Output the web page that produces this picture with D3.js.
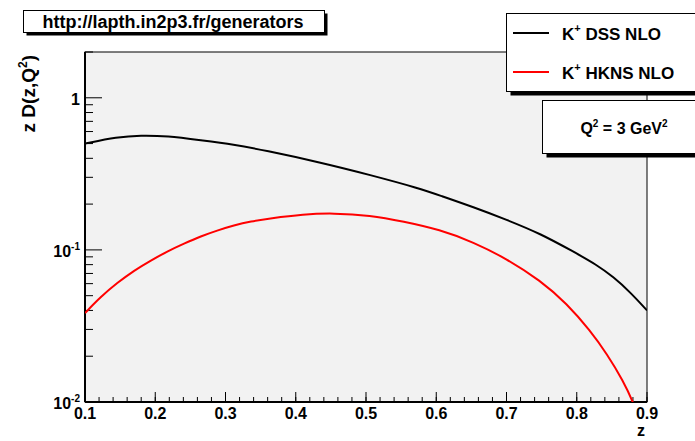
<!DOCTYPE html>
<html>
<head>
<meta charset="utf-8">
<script src="https://cdn.jsdelivr.net/npm/d3@7"></script>
<style>
  body { margin: 0; background: #fff; }
  text { font-family: "Liberation Sans", Arial, sans-serif; font-weight: bold; }
</style>
</head>
<body>
<div id="chart"></div>
<script>
// data (z, z*D(z,Q^2))
const dssZ   = [0.10, 0.146, 0.179, 0.217, 0.265, 0.312, 0.355, 0.435, 0.506, 0.577, 0.605, 0.653, 0.700, 0.748, 0.795, 0.828, 0.852, 0.876, 0.900];
const dssVal = [0.50, 0.552, 0.567, 0.561, 0.525, 0.492, 0.452, 0.376, 0.311, 0.253, 0.228, 0.191, 0.158, 0.128, 0.0975, 0.080, 0.0665, 0.0528, 0.040];

const hknsZ   = [0.10, 0.122, 0.146, 0.170, 0.194, 0.217, 0.241, 0.265, 0.288, 0.312, 0.336, 0.363, 0.411, 0.453, 0.506, 0.553, 0.605, 0.653, 0.700, 0.748, 0.786, 0.819, 0.843, 0.866, 0.881, 0.890];
const hknsVal = [0.0384, 0.049, 0.0608, 0.0733, 0.0853, 0.0977, 0.110, 0.123, 0.134, 0.145, 0.154, 0.161, 0.1715, 0.1746, 0.169, 0.154, 0.136, 0.1125, 0.0875, 0.063, 0.0443, 0.0295, 0.0207, 0.0138, 0.0098, 0.0075];

const xTicks = [0.1, 0.2, 0.3, 0.4, 0.5, 0.6, 0.7, 0.8, 0.9];
const yMajor = [1, 0.1, 0.01];
const yLabels = [["1", ""], ["10", "-1"], ["10", "-2"]];

const W = 695, H = 441;
const margin = { top: 52, right: 48, bottom: 39, left: 85 };

const svg = d3.select("#chart").append("svg")
    .attr("width", W)
    .attr("height", H);

const x = d3.scaleLinear().domain([0.1, 0.9]).range([margin.left, W - margin.right]);
const y = d3.scaleLog().domain([0.01, 2]).range([H - margin.bottom, margin.top]);

// plot frame
svg.append("rect")
    .attr("x", x(0.1)).attr("y", y(2))
    .attr("width", x(0.9) - x(0.1)).attr("height", y(0.01) - y(2))
    .attr("fill", "#f2f2f2").attr("stroke", "#000").attr("stroke-width", 1);

svg.append("clipPath").attr("id", "clip")
  .append("rect")
    .attr("x", x(0.1)).attr("y", y(2))
    .attr("width", x(0.9) - x(0.1)).attr("height", y(0.01) - y(2));

// x axis ticks
const xMinor = d3.range(0.1, 0.9001, 0.02);
svg.append("g").selectAll("line").data(xMinor).join("line")
    .attr("x1", d => x(d)).attr("x2", d => x(d))
    .attr("y1", y(0.01)).attr("y2", y(0.01) - 5)
    .attr("stroke", "#000");
svg.append("g").selectAll("line").data(xTicks).join("line")
    .attr("x1", d => x(d)).attr("x2", d => x(d))
    .attr("y1", y(0.01)).attr("y2", y(0.01) - 10)
    .attr("stroke", "#000");
svg.append("g").selectAll("text").data(xTicks).join("text")
    .attr("x", d => x(d)).attr("y", 419)
    .attr("text-anchor", "middle")
    .attr("font-size", 16)
    .text(d => d3.format(".1f")(d));

// y axis ticks
const yMinor = [];
[0.01, 0.1, 1].forEach(dec => {
  for (let k = 2; k <= 9; k++) if (dec * k <= 2) yMinor.push(dec * k);
});
svg.append("g").selectAll("line").data(yMinor).join("line")
    .attr("x1", x(0.1)).attr("x2", x(0.1) + 8)
    .attr("y1", d => y(d)).attr("y2", d => y(d))
    .attr("stroke", "#000");
svg.append("g").selectAll("line").data(yMajor).join("line")
    .attr("x1", x(0.1)).attr("x2", x(0.1) + 17)
    .attr("y1", d => y(d)).attr("y2", d => y(d))
    .attr("stroke", "#000");
const yl = svg.append("g").selectAll("text").data(yMajor).join("text")
    .attr("x", 80).attr("y", d => y(d) + 7)
    .attr("text-anchor", "end")
    .attr("font-size", 16);
yl.append("tspan").text((d, i) => yLabels[i][0]);
yl.append("tspan").attr("font-size", 10).attr("dy", -7).text((d, i) => yLabels[i][1]);

// axis lines
svg.append("line").attr("x1", x(0.1)).attr("x2", x(0.1)).attr("y1", y(2)).attr("y2", y(0.01))
    .attr("stroke", "#000").attr("stroke-width", 2);
svg.append("line").attr("x1", x(0.1)).attr("x2", x(0.9)).attr("y1", y(0.01)).attr("y2", y(0.01))
    .attr("stroke", "#000").attr("stroke-width", 2);

// axis titles
svg.append("text").attr("x", 645).attr("y", 436).attr("text-anchor", "end")
    .attr("font-size", 16).text("z");
const yt = svg.append("text")
    .attr("transform", "translate(35,55) rotate(-90)")
    .attr("text-anchor", "end")
    .attr("font-size", 19);
yt.append("tspan").text("z D(z,Q");
yt.append("tspan").attr("font-size", 12).attr("dy", -8).text("2");
yt.append("tspan").attr("dy", 8).text(")");

// curves
const line = d3.line().x(d => x(d[0])).y(d => y(d[1])).curve(d3.curveBasis);
svg.append("path").datum(d3.zip(dssZ, dssVal))
    .attr("d", line).attr("fill", "none").attr("stroke", "#000").attr("stroke-width", 2)
    .attr("clip-path", "url(#clip)");
svg.append("path").datum(d3.zip(hknsZ, hknsVal))
    .attr("d", line).attr("fill", "none").attr("stroke", "#ff0000").attr("stroke-width", 2)
    .attr("clip-path", "url(#clip)");

// boxes with shadows
function box(bx, by, bw, bh, sh) {
  svg.append("rect").attr("x", bx + sh).attr("y", by + sh).attr("width", bw).attr("height", bh).attr("fill", "#000");
  svg.append("rect").attr("x", bx).attr("y", by).attr("width", bw).attr("height", bh)
      .attr("fill", "#fff").attr("stroke", "#000").attr("stroke-width", 1);
}

box(23.5, 10.5, 301, 22, 3);
svg.append("text").attr("x", 173).attr("y", 28).attr("text-anchor", "middle")
    .attr("font-size", 18).text("http://lapth.in2p3.fr/generators");

// legend
box(506.5, 13.5, 200, 78, 4);
const legendNames = ["DSS NLO", "HKNS NLO"];
const legendColors = ["#000", "#ff0000"];
const lg = svg.append("g").selectAll("g").data(legendNames).join("g")
    .attr("transform", (d, i) => `translate(0,${33 + i * 39})`);
lg.append("line").attr("x1", 513).attr("x2", 549).attr("y1", 0).attr("y2", 0)
    .attr("stroke", (d, i) => legendColors[i]).attr("stroke-width", 2);
const lt = lg.append("text").attr("x", 562).attr("y", 7).attr("font-size", 17);
lt.append("tspan").text("K");
lt.append("tspan").attr("font-size", 11).attr("dy", -8).text("+");
lt.append("tspan").attr("dy", 8).text(d => " " + d);

// Q2 box
box(542.5, 100.5, 200, 53, 4);
const qt = svg.append("text").attr("x", 624).attr("y", 134).attr("text-anchor", "middle").attr("font-size", 16);
qt.append("tspan").text("Q");
qt.append("tspan").attr("font-size", 10).attr("dy", -7).text("2");
qt.append("tspan").attr("dy", 7).text(" = 3 GeV");
qt.append("tspan").attr("font-size", 10).attr("dy", -7).text("2");
</script>
</body>
</html>
